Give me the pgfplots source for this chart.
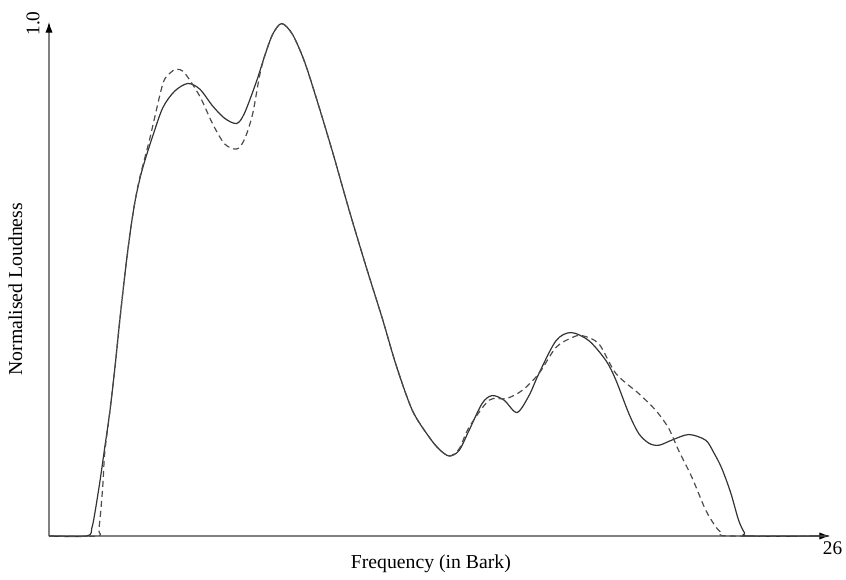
\documentclass[border=0pt]{standalone}
\usepackage{pgfplots}
\pgfplotsset{compat=1.18}
\usetikzlibrary{arrows.meta}
\usepackage{fontspec}
\setmainfont{Liberation Serif}

% loudness curves (x in Bark, y normalised)
\def\solidcurve{
(0,0) (1.265,0) (1.43,0.016) (1.53,0.045) (1.70,0.107) (1.86,0.173)
(2.03,0.243) (2.20,0.329) (2.36,0.420) (2.53,0.510) (2.70,0.589)
(2.86,0.650) (3.03,0.697) (3.20,0.733) (3.43,0.775) (3.79,0.835)
(4.19,0.868) (4.63,0.883) (5.03,0.872) (5.46,0.839) (5.86,0.815)
(6.26,0.805) (6.52,0.825) (6.92,0.887) (7.19,0.936) (7.46,0.979)
(7.76,1.000) (8.12,0.979) (8.52,0.926) (8.95,0.848) (9.45,0.751)
(10.02,0.634) (10.59,0.523) (11.12,0.424) (11.58,0.333) (12.12,0.245)
(12.68,0.193) (13.02,0.169) (13.35,0.156) (13.68,0.167) (14.01,0.206)
(14.45,0.259) (14.78,0.274) (15.18,0.265) (15.61,0.241) (16.01,0.274)
(16.34,0.317) (16.91,0.381) (17.41,0.397) (18.01,0.381) (18.58,0.342)
(18.91,0.304) (19.34,0.239) (19.67,0.200) (20.01,0.181) (20.34,0.177)
(20.77,0.187) (21.34,0.198) (21.90,0.187) (22.17,0.163) (22.44,0.132)
(22.74,0.084) (23.00,0.031) (23.20,0.006) (23.34,0) (26,0)
}
\def\dashedcurve{
(0,0) (1.60,0) (1.66,0.012) (1.73,0.051) (1.80,0.103) (1.86,0.163)
(2.03,0.243) (2.20,0.329) (2.36,0.420) (2.53,0.510) (2.70,0.589)
(2.86,0.650) (3.03,0.700) (3.36,0.775) (3.79,0.881) (4.03,0.903)
(4.26,0.911) (4.53,0.903) (5.03,0.858) (5.46,0.804) (5.86,0.765)
(6.26,0.755) (6.52,0.774) (6.79,0.823) (7.02,0.897) (7.19,0.936)
(7.46,0.979) (7.76,1.000) (8.12,0.979) (8.52,0.926) (8.95,0.848)
(9.45,0.751) (10.02,0.634) (10.59,0.523) (11.12,0.424) (11.58,0.333)
(12.12,0.245) (12.68,0.193) (13.02,0.169) (13.35,0.156) (13.68,0.170)
(14.01,0.212) (14.68,0.265) (15.25,0.268) (15.78,0.284) (16.34,0.317)
(16.91,0.368) (17.44,0.387) (17.78,0.391) (18.34,0.375) (18.91,0.317)
(19.67,0.278) (20.24,0.245) (20.67,0.210) (21.00,0.167) (21.44,0.115)
(21.90,0.051) (22.24,0.018) (22.44,0.006) (22.67,0) (26,0)
}

\begin{document}
\begin{tikzpicture}[x=0.75pt,y=0.75pt]
\def\u{0.75pt}
\begin{axis}[
  scale only axis,
  width=781*\u, height=514*\u,
  xmin=0, xmax=26.05, ymin=0, ymax=1.003,
  axis lines=left,
  axis line style={draw=black!50, line width=0.9pt,
    -{Latex[length=8pt,width=5.5pt,color=black]}},
  xtick={26}, ytick={1},
  xticklabels={26}, yticklabels={1.0},
  major tick length=0pt,
  tick style={draw=none},
  xticklabel style={anchor=north, yshift=-1pt, xshift=3pt},
  yticklabel style={rotate=90, anchor=south, xshift=0pt, yshift=3.5pt},
  font=\fontsize{14.8}{17}\selectfont,
  ticklabel style={font=\fontsize{14.5}{16}\selectfont},
  xlabel={Frequency (in Bark)},
  ylabel={Normalised Loudness},
  xlabel style={at={(axis description cs:0.489,0)}, anchor=north, yshift=-14*\u},
  ylabel style={at={(axis description cs:0,0.48)}, anchor=south, rotate=0, yshift=22*\u},
  clip=false,
]
\addplot[black!80, line width=0.9pt, smooth, tension=0.5] coordinates {\solidcurve};
\addplot[black!70, line width=0.9pt, smooth, tension=0.5, dash pattern=on 4.5pt off 3pt] coordinates {\dashedcurve};
\end{axis}
\pgfresetboundingbox
\path[use as bounding box] (current axis.south west) ++(-49,-43) rectangle ++(846,579);
\end{tikzpicture}
\end{document}
